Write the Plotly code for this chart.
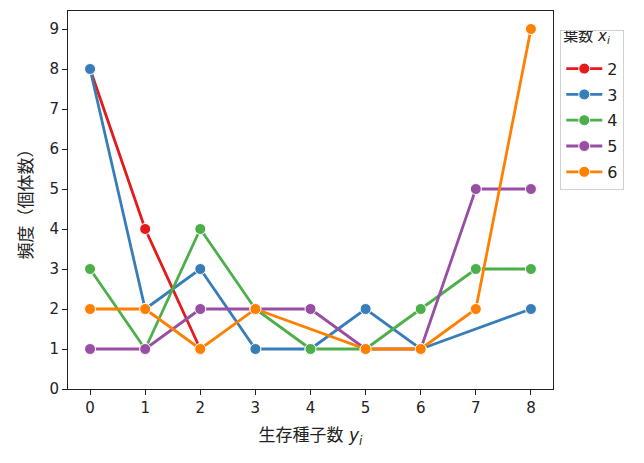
import plotly.graph_objects as go

# seed count (x axis) and frequency per leaf count group
leaf_counts = ["2", "3", "4", "5", "6"]
colors = ["#e41a1c", "#377eb8", "#4daf4a", "#984ea3", "#ff7f00"]

x_2 = [0, 1, 2]
y_2 = [8, 4, 1]

x_3 = [0, 1, 2, 3, 4, 5, 6, 8]
y_3 = [8, 2, 3, 1, 1, 2, 1, 2]

x_4 = [0, 1, 2, 3, 4, 5, 6, 7, 8]
y_4 = [3, 1, 4, 2, 1, 1, 2, 3, 3]

x_5 = [0, 1, 2, 3, 4, 5, 6, 7, 8]
y_5 = [1, 1, 2, 2, 2, 1, 1, 5, 5]

x_6 = [0, 1, 2, 3, 5, 6, 7, 8]
y_6 = [2, 2, 1, 2, 1, 1, 2, 9]

xs = [x_2, x_3, x_4, x_5, x_6]
ys = [y_2, y_3, y_4, y_5, y_6]

FONT = "DejaVu Sans, Noto Sans CJK JP, sans-serif"

fig = go.Figure()
for name, x, y, c in zip(leaf_counts, xs, ys, colors):
    fig.add_trace(
        go.Scatter(
            x=x,
            y=y,
            name=name,
            legendgroup=name,
            mode="lines+markers",
            line=dict(color=c, width=2.8),
            marker=dict(color=c, size=11, line=dict(color="white", width=1)),
        )
    )

axis_common = dict(
    showline=True,
    linecolor="#222",
    linewidth=1,
    mirror=True,
    ticks="outside",
    ticklen=5,
    tickcolor="#222",
    showgrid=False,
    zeroline=False,
    tickfont=dict(family=FONT, size=15, color="#222"),
    dtick=1,
)

# the page adds an 8px body margin, so margins are set a bit smaller
fig.update_layout(
    width=644,
    height=463,
    margin=dict(l=60, r=99, t=3, b=82, autoexpand=False),
    plot_bgcolor="white",
    paper_bgcolor="white",
    font=dict(family=FONT, color="#222"),
    xaxis=dict(
        range=[-0.4, 8.4],
        title=dict(text="生存種子数 <i>y<sub>i</sub></i>", font=dict(size=17), standoff=13),
        **axis_common,
    ),
    yaxis=dict(
        range=[0, 9.45],
        title=dict(text="頻度（個体数）", font=dict(size=17), standoff=12),
        **axis_common,
    ),
    legend=dict(
        title=dict(
            text="<span style='font-size:15px'>葉数 <i>x<sub>i</sub></i></span><br> ",
            font=dict(size=8),
        ),
        x=1.015,
        y=0.95,
        xanchor="left",
        yanchor="top",
        bgcolor="white",
        bordercolor="#d0d0d0",
        borderwidth=1,
        font=dict(size=16),
        traceorder="grouped",
        tracegroupgap=2,
        itemwidth=36,
    ),
)

fig.write_html("out.html")
